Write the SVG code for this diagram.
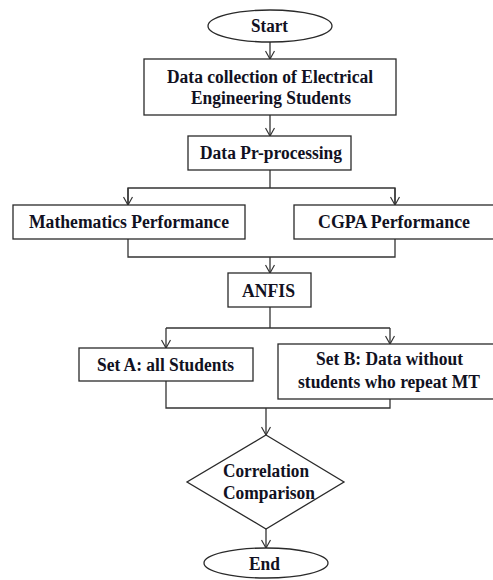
<svg xmlns="http://www.w3.org/2000/svg" width="493" height="580" viewBox="0 0 493 580">
  <style>
    .shape { fill: #ffffff; stroke: #2a2a2a; stroke-width: 1.3; }
    .lbl { font-family: 'Liberation Serif', 'Times New Roman', 'DejaVu Serif', serif; font-weight: 700; font-size: 18px; fill: #111122; }
    .wire { fill: none; stroke: #333333; stroke-width: 1.3; }
  </style>
  <defs>
    <marker id="arrow" viewBox="0 0 10 10" refX="9" refY="5" markerWidth="10" markerHeight="10" markerUnits="userSpaceOnUse" orient="auto">
      <path d="M1,0.5 L9,5 L1,9.5" fill="none" stroke="#333333" stroke-width="1.2"/>
    </marker>
  </defs>

  <rect width="493" height="580" fill="#ffffff"/>

  <g id="connectors">
    <line class="wire" x1="270" y1="42" x2="270" y2="59" marker-end="url(#arrow)"/>
    <line class="wire" x1="270" y1="115" x2="270" y2="136" marker-end="url(#arrow)"/>
    <polyline class="wire" points="270,170 270,188"/>
    <polyline class="wire" points="128,205 128,188 395,188 395,205"/>
    <line class="wire" x1="128" y1="188" x2="128" y2="205" marker-end="url(#arrow)"/>
    <line class="wire" x1="395" y1="188" x2="395" y2="205" marker-end="url(#arrow)"/>
    <polyline class="wire" points="128,239 128,257 395,257 395,239"/>
    <line class="wire" x1="270" y1="257" x2="270" y2="273" marker-end="url(#arrow)"/>
    <polyline class="wire" points="270,307 270,328"/>
    <polyline class="wire" points="166,328 390,328"/>
    <line class="wire" x1="166" y1="328" x2="166" y2="348" marker-end="url(#arrow)"/>
    <line class="wire" x1="390" y1="328" x2="390" y2="344" marker-end="url(#arrow)"/>
    <polyline class="wire" points="166,381 166,408 390,408 390,399"/>
    <line class="wire" x1="266" y1="408" x2="266" y2="435" marker-end="url(#arrow)"/>
    <line class="wire" x1="266" y1="529" x2="266" y2="548" marker-end="url(#arrow)"/>
  </g>

  <g id="start">
    <ellipse class="shape" cx="270" cy="26" rx="62" ry="16"/>
    <text class="lbl" x="251" y="32" textLength="37" lengthAdjust="spacingAndGlyphs">Start</text>
  </g>

  <g id="data-collection">
    <rect class="shape" x="144" y="59" width="252" height="56"/>
    <text class="lbl" x="167" y="83" textLength="206" lengthAdjust="spacingAndGlyphs">Data collection  of Electrical</text>
    <text class="lbl" x="191" y="104" textLength="160" lengthAdjust="spacingAndGlyphs">Engineering Students</text>
  </g>

  <g id="preprocessing">
    <rect class="shape" x="188" y="136" width="163" height="34"/>
    <text class="lbl" x="200" y="159" textLength="142" lengthAdjust="spacingAndGlyphs">Data Pr-processing</text>
  </g>

  <g id="math-performance">
    <rect class="shape" x="13" y="205" width="232" height="34"/>
    <text class="lbl" x="29" y="228" textLength="200" lengthAdjust="spacingAndGlyphs">Mathematics Performance</text>
  </g>

  <g id="cgpa-performance">
    <rect class="shape" x="294" y="205" width="210" height="34"/>
    <text class="lbl" x="318" y="228" textLength="152" lengthAdjust="spacingAndGlyphs">CGPA Performance</text>
  </g>

  <g id="anfis">
    <rect class="shape" x="228" y="273" width="83" height="34"/>
    <text class="lbl" x="242" y="297" textLength="53" lengthAdjust="spacingAndGlyphs">ANFIS</text>
  </g>

  <g id="set-a">
    <rect class="shape" x="79" y="348" width="174" height="33"/>
    <text class="lbl" x="97" y="371" textLength="137" lengthAdjust="spacingAndGlyphs">Set A: all Students</text>
  </g>

  <g id="set-b">
    <rect class="shape" x="278" y="344" width="226" height="55"/>
    <text class="lbl" x="316" y="365" textLength="147" lengthAdjust="spacingAndGlyphs">Set B: Data without</text>
    <text class="lbl" x="298" y="388" textLength="182" lengthAdjust="spacingAndGlyphs">students who repeat MT</text>
  </g>

  <g id="correlation">
    <polygon class="shape" points="266,435 344,482 266,529 187,482"/>
    <text class="lbl" x="223" y="477" textLength="86" lengthAdjust="spacingAndGlyphs">Correlation</text>
    <text class="lbl" x="223" y="499" textLength="92" lengthAdjust="spacingAndGlyphs">Comparison</text>
  </g>

  <g id="end">
    <ellipse class="shape" cx="266" cy="563" rx="62" ry="15"/>
    <text class="lbl" x="249" y="570" textLength="31" lengthAdjust="spacingAndGlyphs">End</text>
  </g>
</svg>
